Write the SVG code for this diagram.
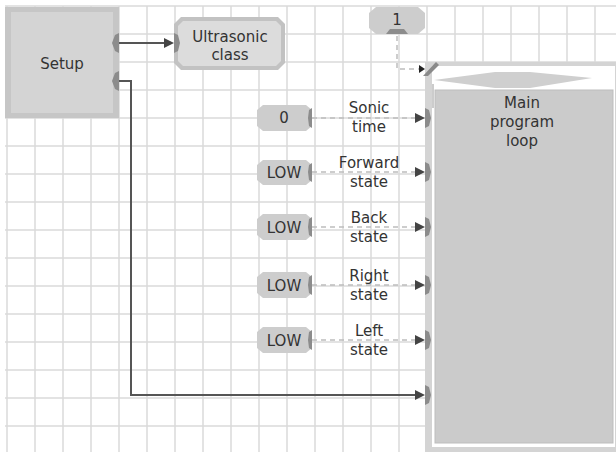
<svg xmlns="http://www.w3.org/2000/svg" width="616" height="452" viewBox="0 0 616 452">
<defs>
<style>
text{font-family:"DejaVu Sans","Verdana",sans-serif;font-size:15px;fill:#333;text-anchor:middle}
.grid line{stroke:#dadada;stroke-width:1.5}
.port{fill:#8c8c8c}
.val{fill:#cdcdcd}
.dash{stroke:#bdbdbd;stroke-width:1.5;stroke-dasharray:5 4;fill:none}
.solid{stroke:#555;stroke-width:2;fill:none}
.ah{fill:#444}
</style>
</defs>
<rect width="616" height="452" fill="#fff"/>
<g class="grid">
<line x1="7" y1="6" x2="7" y2="452"/><line x1="35" y1="6" x2="35" y2="452"/><line x1="63" y1="6" x2="63" y2="452"/><line x1="91" y1="6" x2="91" y2="452"/><line x1="119" y1="6" x2="119" y2="452"/><line x1="147" y1="6" x2="147" y2="452"/><line x1="175" y1="6" x2="175" y2="452"/><line x1="203" y1="6" x2="203" y2="452"/><line x1="231" y1="6" x2="231" y2="452"/><line x1="259" y1="6" x2="259" y2="452"/><line x1="287" y1="6" x2="287" y2="452"/><line x1="315" y1="6" x2="315" y2="452"/><line x1="343" y1="6" x2="343" y2="452"/><line x1="371" y1="6" x2="371" y2="452"/><line x1="399" y1="6" x2="399" y2="452"/><line x1="427" y1="6" x2="427" y2="452"/><line x1="455" y1="6" x2="455" y2="452"/><line x1="483" y1="6" x2="483" y2="452"/><line x1="511" y1="6" x2="511" y2="452"/><line x1="539" y1="6" x2="539" y2="452"/><line x1="567" y1="6" x2="567" y2="452"/><line x1="595" y1="6" x2="595" y2="452"/>
<line x1="5" y1="6" x2="616" y2="6"/><line x1="5" y1="34" x2="616" y2="34"/><line x1="5" y1="62" x2="616" y2="62"/><line x1="5" y1="90" x2="616" y2="90"/><line x1="5" y1="118" x2="616" y2="118"/><line x1="5" y1="146" x2="616" y2="146"/><line x1="5" y1="174" x2="616" y2="174"/><line x1="5" y1="202" x2="616" y2="202"/><line x1="5" y1="230" x2="616" y2="230"/><line x1="5" y1="258" x2="616" y2="258"/><line x1="5" y1="286" x2="616" y2="286"/><line x1="5" y1="314" x2="616" y2="314"/><line x1="5" y1="342" x2="616" y2="342"/><line x1="5" y1="370" x2="616" y2="370"/><line x1="5" y1="398" x2="616" y2="398"/><line x1="5" y1="426" x2="616" y2="426"/>
</g>

<g id="connectors">
<line class="solid" x1="119" y1="43" x2="166" y2="43"/>
<polygon class="ah" points="164,38 174,43 164,48"/>
<polyline class="solid" points="119,81 131,81 131,395 416,395"/>
<polygon class="ah" points="415,390 425,395 415,400" fill="#666"/>
<polyline class="dash" points="397,36 397,69 420,69"/>
<polygon points="419,65 425,69 419,73" fill="#222"/>
<line class="dash" x1="312" y1="118" x2="416" y2="118"/>
<polygon class="ah" points="415,113 425,118 415,123"/>
<line class="dash" x1="312" y1="172" x2="416" y2="172"/>
<polygon class="ah" points="415,167 425,172 415,177"/>
<line class="dash" x1="312" y1="227" x2="416" y2="227"/>
<polygon class="ah" points="415,222 425,227 415,232"/>
<line class="dash" x1="312" y1="285" x2="416" y2="285"/>
<polygon class="ah" points="415,280 425,285 415,290"/>
<line class="dash" x1="312" y1="340" x2="416" y2="340"/>
<polygon class="ah" points="415,335 425,340 415,345"/>
<text x="369" y="113">Sonic</text><text x="369" y="132">time</text>
<text x="369" y="168">Forward</text><text x="369" y="187">state</text>
<text x="369" y="223">Back</text><text x="369" y="242">state</text>
<text x="369" y="281">Right</text><text x="369" y="300">state</text>
<text x="369" y="336">Left</text><text x="369" y="355">state</text>
</g>

<g id="setup">
<rect x="5" y="7" width="114" height="111" fill="#c6c6c6"/>
<rect x="11" y="12" width="102" height="101" fill="#d4d4d4"/>
<polygon class="port" points="119,33 115,35 112,43 115,51 119,53"/>
<polygon class="port" points="119,71 115,73 112,81 115,89 119,91"/>
<text x="62" y="69">Setup</text>
</g>

<g id="ultrasonic">
<polygon points="181,17 278,17 285,24 285,63 278,70 181,70 174,63 174,24" fill="#c2c2c2"/>
<polygon points="183,21 276,21 281,26 281,61 276,66 183,66 178,61 178,26" fill="#dcdcdc"/>
<polygon class="port" points="174,33 178,35 180,43 178,51 174,53"/>
<text x="230" y="42">Ultrasonic</text>
<text x="230" y="60">class</text>
</g>

<g id="one">
<polygon class="val" points="376,7 418,7 425,13 425,28 418,34 376,34 369,28 369,13"/>
<polygon class="port" points="386,34 390,29 404,29 408,34"/>
<text x="397" y="25">1</text>
</g>

<g id="v0">
<polygon class="val" points="263,105 306,105 312,110 312,126 306,131 263,131 257,126 257,110"/>
<polygon class="port" points="312,108 309,110 308,118 309,126 312,128"/>
<text x="284" y="123">0</text>
</g>
<g id="vforward">
<polygon class="val" points="263,160 306,160 312,165 312,180 306,185 263,185 257,180 257,165"/>
<polygon class="port" points="312,163 309,165 308,172 309,180 312,182"/>
<text x="284" y="178">LOW</text>
</g>
<g id="vback">
<polygon class="val" points="263,214 306,214 312,219 312,235 306,240 263,240 257,235 257,219"/>
<polygon class="port" points="312,217 309,219 308,227 309,235 312,237"/>
<text x="284" y="233">LOW</text>
</g>
<g id="vright">
<polygon class="val" points="263,272 306,272 312,277 312,293 306,298 263,298 257,293 257,277"/>
<polygon class="port" points="312,275 309,277 308,285 309,293 312,295"/>
<text x="284" y="291">LOW</text>
</g>
<g id="vleft">
<polygon class="val" points="263,327 306,327 312,332 312,348 306,353 263,353 257,348 257,332"/>
<polygon class="port" points="312,330 309,332 308,340 309,348 312,350"/>
<text x="284" y="346">LOW</text>
</g>

<g id="mainloop">
<rect x="425" y="62" width="191" height="390" fill="#d4d4d4"/>
<rect x="432" y="66" width="183" height="381" fill="#fff"/>
<rect x="435" y="90" width="178" height="353" fill="#cbcbcb" stroke="#bdbdbd" stroke-width="1"/>
<polygon points="434,80 495,72 530,72 592,78 530,88 495,88" fill="#cfcfcf"/>
<line x1="433" y1="84" x2="433" y2="108" stroke="#bbb" stroke-width="1.5"/>
<polygon points="423,76 436,62 439,65 428,76" fill="#8a8a8a"/>
<polygon class="port" points="425,108 429,110 431,118 429,126 425,128"/>
<polygon class="port" points="425,162 429,164 431,172 429,180 425,182"/>
<polygon class="port" points="425,217 429,219 431,227 429,235 425,237"/>
<polygon class="port" points="425,275 429,277 431,285 429,293 425,295"/>
<polygon class="port" points="425,330 429,332 431,340 429,348 425,350"/>
<polygon class="port" points="425,385 429,387 431,395 429,403 425,405"/>
<text x="522" y="108">Main</text>
<text x="522" y="127">program</text>
<text x="522" y="146">loop</text>
</g>
</svg>
